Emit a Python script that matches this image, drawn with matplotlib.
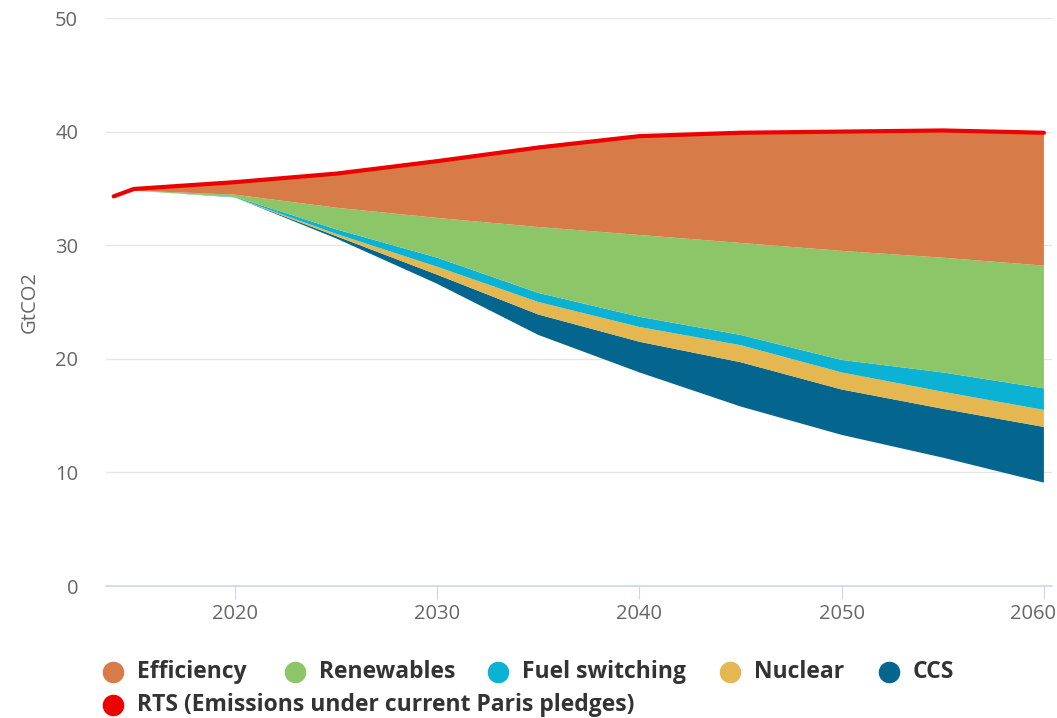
import matplotlib
matplotlib.use("Agg")
import matplotlib.pyplot as plt
from matplotlib.lines import Line2D
from matplotlib.transforms import ScaledTranslation
import numpy as np

years = [2014, 2015, 2020, 2025, 2030, 2035, 2040, 2045, 2050, 2055, 2060]
remaining = [34.2, 34.8, 34.2, 30.6, 26.6, 22.1, 18.8, 15.8, 13.3, 11.3, 9.1]
ccs = [0.0, 0.0, 0.0, 0.2, 0.8, 1.8, 2.7, 3.9, 4.0, 4.3, 4.9]
nuclear = [0.0, 0.0, 0.0, 0.2, 0.7, 1.1, 1.3, 1.5, 1.5, 1.5, 1.5]
fuel_switching = [0.0, 0.0, 0.05, 0.4, 0.8, 0.8, 0.9, 0.9, 1.1, 1.7, 1.9]
renewables = [0.0, 0.0, 0.2, 1.9, 3.5, 5.8, 7.2, 8.1, 9.6, 10.1, 10.8]
efficiency = [0.1, 0.15, 1.1, 3.0, 5.0, 7.0, 8.7, 9.7, 10.5, 11.2, 11.7]
rts = [34.3, 34.95, 35.55, 36.3, 37.4, 38.6, 39.6, 39.9, 40.0, 40.1, 39.9]

labels = ["Efficiency", "Renewables", "Fuel switching", "Nuclear", "CCS"]
colors = ["#d77c48", "#8cc668", "#0cb2d4", "#e4b750", "#04668f"]
rts_label = "RTS (Emissions under current Paris pledges)"
rts_color = "#ec0000"

plt.rcParams['font.family'] = ['Open Sans', 'DejaVu Sans']

fig = plt.figure(figsize=(10.57, 7.18), dpi=100)
ax = fig.add_axes([106/1057, 132/718, (1052-106)/1057, (586-18)/718])

ax.stackplot(years, remaining, ccs, nuclear, fuel_switching, renewables, efficiency,
             colors=["none", colors[4], colors[3], colors[2], colors[1], colors[0]],
             linewidth=0)
ax.plot(years, rts, color=rts_color, lw=3, solid_capstyle='round', solid_joinstyle='round', zorder=5)

ax.set_xlim(2013.62, 2060.4)
ax.set_ylim(0, 50)
ax.set_yticks([0, 10, 20, 30, 40, 50])
ax.set_xticks([2020, 2030, 2040, 2050, 2060])
ax.grid(axis='y', color='#e6e6e6', lw=1)
ax.set_axisbelow(True)
for s in ['top', 'right', 'left']:
    ax.spines[s].set_visible(False)
ax.spines['bottom'].set_color('#ccd6eb')
ax.spines['bottom'].set_linewidth(1.2)
ax.tick_params(axis='y', length=0, pad=20, labelsize=14.5, labelcolor='#666666')
ax.tick_params(axis='x', length=9, color='#ccd6eb', pad=4, labelsize=14.5, labelcolor='#666666')
ax.set_ylabel("GtCO2", fontsize=14.5, color='#666666')
ax.yaxis.set_label_coords((40 - 106) / (1052 - 106), 0.5)
fig.canvas.draw()
last = ax.get_xticklabels()[-1]
last.set_transform(last.get_transform() + ScaledTranslation(-11/100, 0, fig.dpi_scale_trans))

# legend (manual)
items = [(labels[0], colors[0], 113, 672), (labels[1], colors[1], 295, 672),
         (labels[2], colors[2], 498, 672), (labels[3], colors[3], 730, 672),
         (labels[4], colors[4], 889, 672), (rts_label, rts_color, 113, 705)]
for text, c, px, py in items:
    fx, fy = px/1057, 1 - py/718
    fig.add_artist(Line2D([fx], [fy], marker='o', markersize=14.5, color=c, lw=0,
                          transform=fig.transFigure))
    fig.text(fx + 24/1057, fy, text, fontsize=16.5, fontweight='bold', color='#333333',
             va='center', ha='left')

fig.savefig("out.png", dpi=100)
